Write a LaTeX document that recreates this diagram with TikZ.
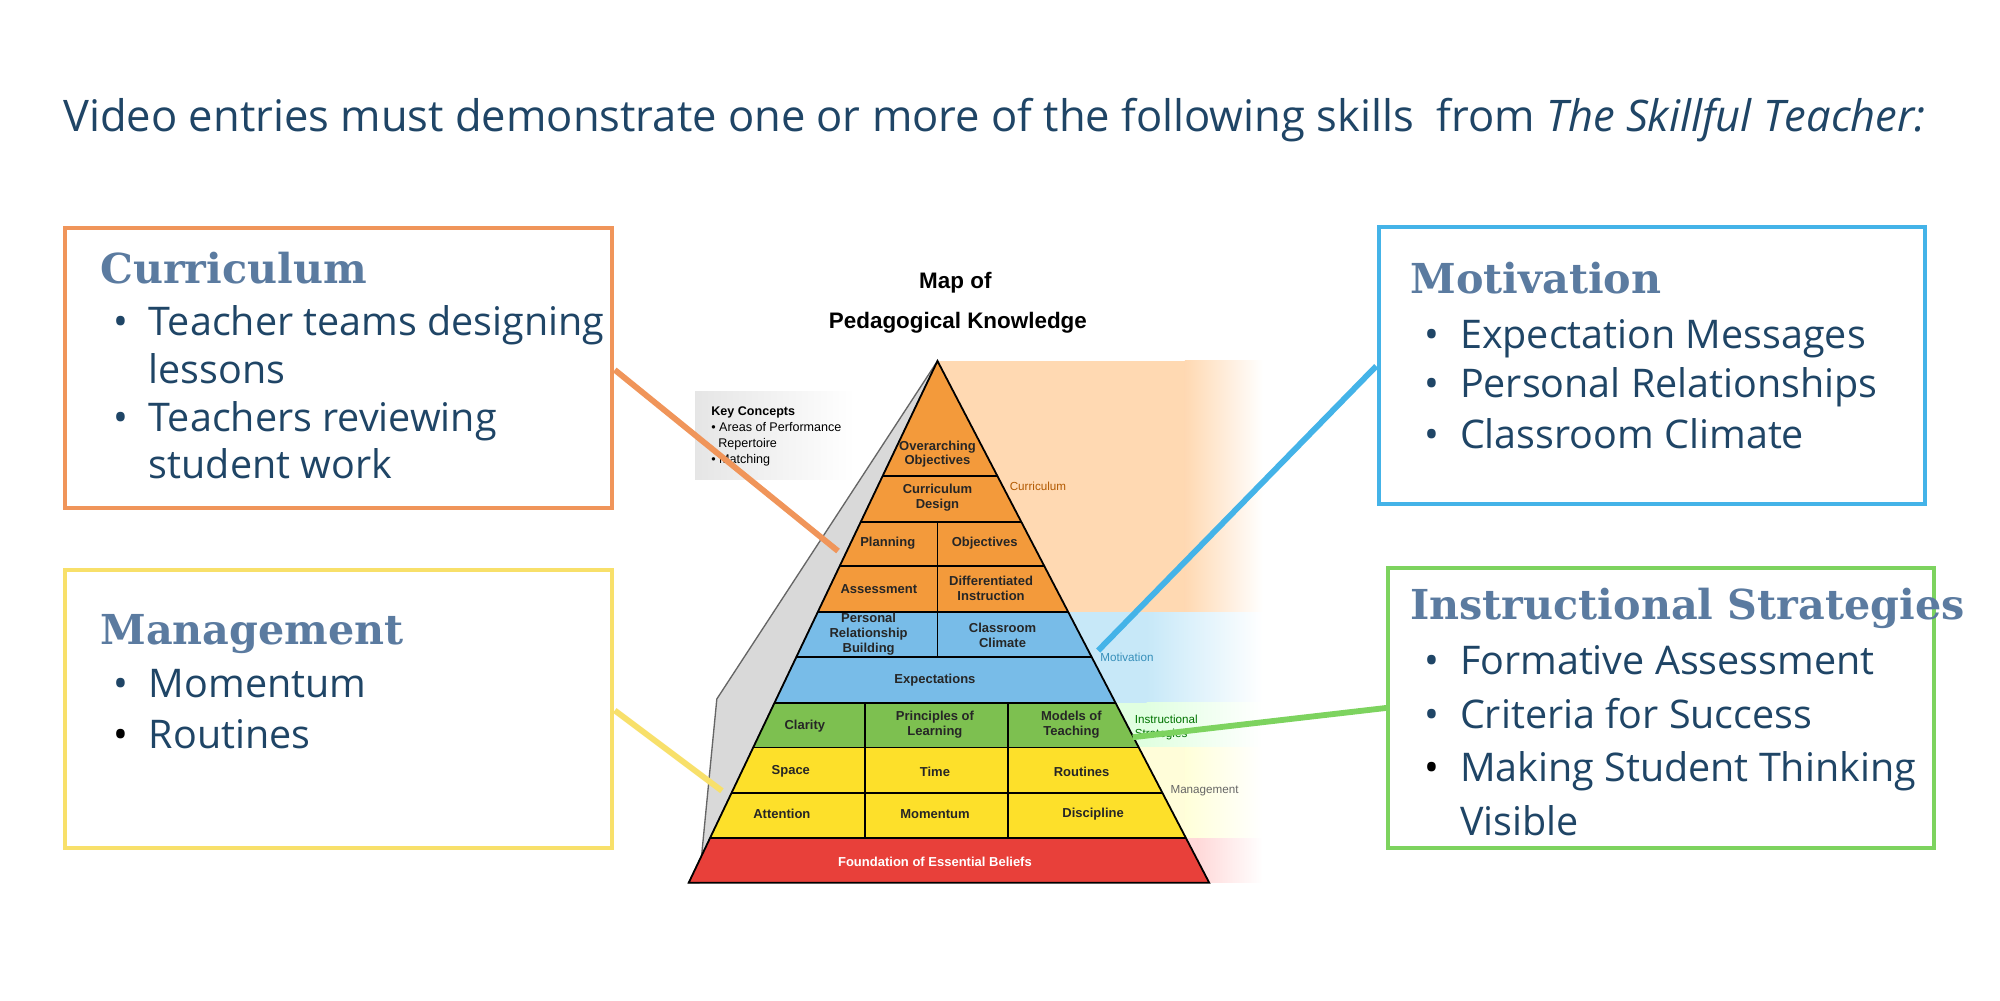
\documentclass[tikz,border=0pt]{standalone}
\usepackage{fontspec}
\setmainfont{Open Sans}
\newfontfamily\slab{DejaVu Serif}
\newfontfamily\pyrf{Liberation Sans}
\begin{document}
\begin{tikzpicture}[x=0.01cm,y=-0.01cm,
  txt/.style={anchor=base west,inner sep=0,text=txtblue,font=\fontsize{8.8}{10}\selectfont},
  bul/.style={anchor=base west,inner sep=0,text=txtblue,font=\fontsize{8.8}{10}\selectfont},
  head/.style={anchor=base west,inner sep=0,text=headblue,font=\fontsize{9.2}{10}\selectfont\slab\bfseries},
  box/.style={line width=0.9pt},
  conn/.style={line width=1.3pt},
  pt/.style={inner sep=0,align=center,font=\fontsize{2.9}{3.3}\selectfont\pyrf\bfseries,text=black!85},
  side/.style={inner sep=0,anchor=west,font=\fontsize{2.6}{3}\selectfont\pyrf}]
\definecolor{txtblue}{HTML}{1F4566}
\definecolor{headblue}{HTML}{5B7BA0}
\definecolor{corange}{HTML}{F0955A}
\definecolor{cblue}{HTML}{44B3E8}
\definecolor{cyellow}{HTML}{F8E06A}
\definecolor{cgreen}{HTML}{7DD35F}
\definecolor{porange}{HTML}{F39A3B}
\definecolor{pblue}{HTML}{78BCE8}
\definecolor{pgreen}{HTML}{7DC050}
\definecolor{pyellow}{HTML}{FDE02A}
\definecolor{pred}{HTML}{E8403A}
\useasboundingbox (0,0) rectangle (1568,784);
\fill[white] (0,0) rectangle (1568,784);
% title
\node[anchor=base west,inner sep=0,text=txtblue,font=\fontsize{9.7}{11}\selectfont] (title) at (49,103)
  {Video entries must demonstrate one or more of the following skills\ \ from \textit{The Skillful Teacher:}};
% background bands
\fill[orange!30!white] (735,283) rectangle (930,480);
\shade[left color=orange!30!white,right color=white] (929,283) rectangle (990,480);
\fill[cblue!30!white] (800,480) rectangle (900,551);
\shade[left color=cblue!30!white,right color=white] (899,480) rectangle (990,551);
\fill[green!12!white] (800,551) rectangle (900,586);
\shade[left color=green!12!white,right color=white] (899,551) rectangle (990,586);
\fill[yellow!15!white] (800,586) rectangle (930,657);
\shade[left color=yellow!15!white,right color=white] (929,586) rectangle (990,657);
\fill[red!15!white] (850,657) rectangle (940,692);
\shade[left color=red!15!white,right color=white] (939,657) rectangle (990,692);
% key concepts
\shade[left color=black!10,right color=white] (545,307) rectangle (670,376);
\node[inner sep=0,anchor=north west,align=left,font=\fontsize{2.8}{3.6}\selectfont\pyrf] (keyc) at (557,318)
  {\textbf{Key Concepts}\\ • Areas of Performance\\ \ \ Repertoire\\ • Matching};
% gray shadow
\filldraw[fill=black!15,draw=black!60,line width=0.3pt] (735,283) -- (562,548) -- (548,692) -- (540,692) -- cycle;
% pyramid
\begin{scope}
\clip (735,283) -- (948,692) -- (540,692) -- cycle;
\fill[porange] (500,280) rectangle (1000,480);
\fill[pblue] (500,480) rectangle (1000,551);
\fill[pgreen] (500,551) rectangle (1000,586);
\fill[pyellow] (500,586) rectangle (1000,657);
\fill[pred] (500,657) rectangle (1000,692);
\foreach \yy in {373,409,444,480,515,551,586,622,657}
  \draw[line width=0.4pt] (500,\yy) -- (1000,\yy);
\draw[line width=0.4pt] (735,409) -- (735,515);
\draw[line width=0.4pt] (678,551) -- (678,657);
\draw[line width=0.4pt] (790,551) -- (790,657);
\end{scope}
\draw[line width=0.4pt] (735,283) -- (948,692) -- (540,692) -- cycle;
\node[pt] (ov) at (735,356) {Overarching\\Objectives};
\node[pt] (cd) at (735,390) {Curriculum\\Design};
\node[pt] (pl) at (696,426) {Planning};
\node[pt] (ob) at (772,426) {Objectives};
\node[pt] (as) at (689,462) {Assessment};
\node[pt] (di) at (777,461) {Differentiated\\Instruction};
\node[pt] (pr) at (681,497) {Personal\\Relationship\\Building};
\node[pt] (cc) at (786,498) {Classroom\\Climate};
\node[pt] (ex) at (733,533) {Expectations};
\node[pt] (cl) at (631,569) {Clarity};
\node[pt] (pol) at (733,568) {Principles of\\Learning};
\node[pt] (mt) at (840,568) {Models of\\Teaching};
\node[pt] (sp) at (620,605) {Space};
\node[pt] (ti) at (733,605) {Time};
\node[pt] (ro) at (848,605) {Routines};
\node[pt] (at) at (613,638) {Attention};
\node[pt] (mo) at (733,638) {Momentum};
\node[pt] (dc) at (857,638) {Discipline};
\node[pt,text=white] (fe) at (733,676) {Foundation of Essential Beliefs};
\node[side,text=orange!70!black] (lcur) at (791,381) {Curriculum};
\node[side,text=cblue!80!black] (lmot) at (862,515) {Motivation};
\node[side,text=green!45!black,align=left,anchor=north west] (lins) at (889,560) {Instructional\\Strategies};
\node[side,text=black!60] (lman) at (917,620) {Management};
% map title
\node[inner sep=0,font=\fontsize{5}{6}\selectfont\pyrf\bfseries] (m1) at (749,222) {Map of};
\node[inner sep=0,font=\fontsize{5}{6}\selectfont\pyrf\bfseries] (m2) at (751,253) {Pedagogical Knowledge};
% boxes
\draw[box,corange] (51,179) rectangle (480,398);
\draw[box,cblue] (1081,178) rectangle (1509,395);
\draw[box,cyellow] (51,447) rectangle (480,665);
\draw[box,cgreen] (1088,445) rectangle (1516,665);
\coordinate (c1) at (482,290); \coordinate (c1e) at (657,432);
\coordinate (c2) at (482,557); \coordinate (c2e) at (566,620);
\coordinate (c3) at (1079,287); \coordinate (c3e) at (861,510);
\coordinate (c4) at (1087,555); \coordinate (c4e) at (888,578);
\draw[conn,corange] (c1) -- (c1e);
\draw[conn,cyellow] (c2) -- (c2e);
\draw[conn,cblue] (c3) -- (c3e);
\draw[conn,cgreen] (c4) -- (c4e);
% box texts
\node[head] (h1) at (78,222) {Curriculum};
\node[bul] (b11) at (88,263) {•};
\node[txt] (t11) at (116,263) {Teacher teams designing};
\node[txt] (t12) at (116,301) {lessons};
\node[bul] (b12) at (88,338) {•};
\node[txt] (t13) at (116,338) {Teachers reviewing};
\node[txt] (t14) at (116,375) {student work};
\node[head] (h2) at (1105,230) {Motivation};
\node[bul] (b21) at (1116,273) {•};
\node[txt] (t21) at (1144,273) {Expectation Messages};
\node[bul] (b22) at (1116,312) {•};
\node[txt] (t22) at (1144,312) {Personal Relationships};
\node[bul] (b23) at (1116,352) {•};
\node[txt] (t23) at (1144,352) {Classroom Climate};
\node[head] (h3) at (78,505) {Management};
\node[bul] (b31) at (88,547) {•};
\node[txt] (t31) at (116,547) {Momentum};
\node[bul,text=black] (b32) at (88,587) {•};
\node[txt] (t32) at (116,587) {Routines};
\node[head] (h4) at (1105,486) {Instructional Strategies};
\node[bul] (b41) at (1116,529) {•};
\node[txt] (t41) at (1144,529) {Formative Assessment};
\node[bul] (b42) at (1116,571) {•};
\node[txt] (t42) at (1144,571) {Criteria for Success};
\node[bul,text=black] (b43) at (1116,613) {•};
\node[txt] (t43) at (1144,613) {Making Student Thinking};
\node[txt] (t44) at (1144,655) {Visible};
\end{tikzpicture}
\end{document}
